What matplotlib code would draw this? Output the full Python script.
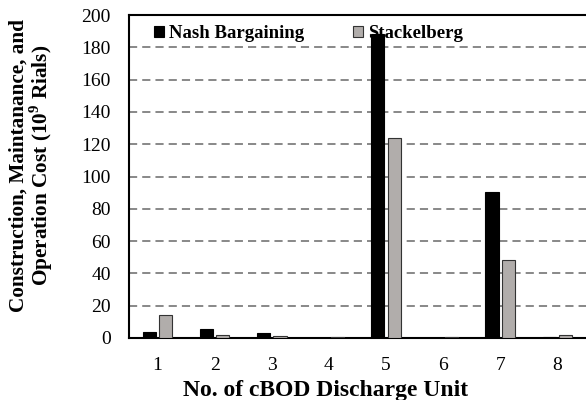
import matplotlib
matplotlib.use("Agg")
import matplotlib.pyplot as plt
import numpy as np

units = ["1", "2", "3", "4", "5", "6", "7", "8"]
nash = [3.7, 5.5, 2.8, 0.0, 188.0, 0.0, 90.5, 0.5]
stackelberg = [14.2, 2.0, 1.3, 0.4, 124.0, 0.4, 48.0, 1.8]
yticks = [0, 20, 40, 60, 80, 100, 120, 140, 160, 180, 200]

plt.rcParams['font.family'] = ['Liberation Serif', 'DejaVu Serif']
plt.rcParams['mathtext.fontset'] = 'custom'
plt.rcParams['mathtext.rm'] = 'Liberation Serif'
plt.rcParams['mathtext.bf'] = 'Liberation Serif:bold'

fig = plt.figure(figsize=(5.86, 4.0), dpi=100)
ax = fig.add_axes([0.220, 0.155, 0.780, 0.8075])

x = np.arange(1, len(units) + 1)
w = 0.23
off = 0.145
ax.bar(x - off, nash, width=w, color='black', edgecolor='black', linewidth=0.8,
       label='Nash Bargaining', zorder=3)
ax.bar(x + off, stackelberg, width=w, color='#b1adab', edgecolor='#333333', linewidth=0.8,
       label='Stackelberg', zorder=3)

ax.set_xlim(0.5, 8.5)
ax.set_ylim(0, 200)
ax.set_yticks(yticks)
ax.set_xticks(x)
ax.set_xticklabels(units)
ax.tick_params(axis='both', length=0, labelsize=14)
ax.tick_params(axis='x', pad=14)
ax.tick_params(axis='y', pad=13)

for v in yticks[1:-1]:
    ax.axhline(v, color='#888888', linestyle=(0, (4.2, 2.6)), linewidth=1.4, zorder=1)

ax.spines['right'].set_visible(False)
for s in ['top', 'left', 'bottom']:
    ax.spines[s].set_linewidth(1.5)
    ax.spines[s].set_color('black')

ax.set_xlabel('No. of cBOD Discharge Unit', fontsize=17, fontweight='bold', labelpad=0)
ax.xaxis.set_label_coords(0.43, -0.13)
ax.set_ylabel('Construction, Maintanance, and\nOperation Cost (10$^\\mathbf{9}$ Rials)',
              fontsize=15.3, fontweight='bold', linespacing=0.95)
ax.yaxis.set_label_coords(-0.161, 0.535)

leg = ax.legend(loc='upper left', ncol=2, frameon=False,
                prop={'weight': 'bold', 'size': 13.5}, handlelength=0.55, handleheight=0.55,
                handletextpad=0.25, columnspacing=2.6, bbox_to_anchor=(0.018, 1.02))
leg.set_zorder(2)

fig.savefig('out.png', dpi=100)
